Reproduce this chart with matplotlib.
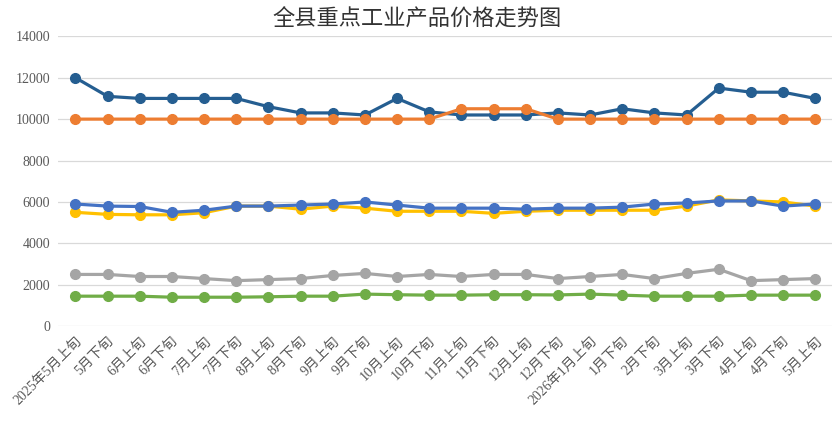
import matplotlib.pyplot as plt
import numpy as np

plt.rcParams['font.family'] = ['Liberation Serif', 'Noto Sans CJK SC', 'DejaVu Sans']

LABELS = [
    "2025年5月上旬", "5月下旬", "6月上旬", "6月下旬", "7月上旬", "7月下旬",
    "8月上旬", "8月下旬", "9月上旬", "9月下旬", "10月上旬", "10月下旬",
    "11月上旬", "11月下旬", "12月上旬", "12月下旬", "2026年1月上旬", "1月下旬",
    "2月下旬", "3月上旬", "3月下旬", "4月上旬", "4月下旬", "5月上旬",
]

s_darkblue = [12000, 11100, 11000, 11000, 11000, 11000, 10600, 10300, 10300, 10200, 11000, 10350,
              10200, 10200, 10200, 10300, 10200, 10500, 10300, 10200, 11500, 11300, 11300, 11000]
s_orange = [10000, 10000, 10000, 10000, 10000, 10000, 10000, 10000, 10000, 10000, 10000, 10000,
            10500, 10500, 10500, 10000, 10000, 10000, 10000, 10000, 10000, 10000, 10000, 10000]
s_yellow = [5500, 5400, 5380, 5380, 5480, 5800, 5800, 5650, 5800, 5700, 5550, 5550,
            5550, 5450, 5550, 5600, 5600, 5600, 5600, 5800, 6100, 6050, 6000, 5800]
s_blue = [5900, 5800, 5780, 5500, 5600, 5800, 5800, 5850, 5900, 6000, 5850, 5700,
          5700, 5700, 5650, 5700, 5700, 5750, 5900, 5950, 6050, 6050, 5800, 5900]
s_gray = [2500, 2500, 2400, 2400, 2300, 2200, 2250, 2300, 2450, 2550, 2400, 2500,
          2400, 2500, 2500, 2300, 2400, 2500, 2300, 2550, 2750, 2200, 2250, 2300]
s_green = [1450, 1450, 1450, 1400, 1400, 1400, 1420, 1450, 1450, 1550, 1520, 1500,
           1500, 1520, 1520, 1510, 1550, 1500, 1450, 1450, 1450, 1500, 1500, 1500]

SERIES = [
    (s_darkblue, "#255E91"),
    (s_orange, "#ED7D31"),
    (s_gray, "#A5A5A5"),
    (s_green, "#70AD47"),
    (s_yellow, "#FFC000"),
    (s_blue, "#4472C4"),
]


def main():
    fig = plt.figure(figsize=(8.34, 4.22), dpi=100)
    ax = fig.add_axes([0.07, 0.227, 0.928, 0.687])
    x = np.arange(len(LABELS))

    for vals, color in SERIES:
        ax.plot(x, vals, color=color, lw=2.3, marker="o", ms=7, zorder=3)

    ax.set_xlim(-0.53, 23.53)
    ax.set_ylim(0, 14000)
    ax.set_yticks(np.arange(0, 14001, 2000))
    ax.set_xticks(x)
    ax.set_xticklabels(LABELS)
    plt.setp(ax.get_xticklabels(), rotation=45, ha="right", rotation_mode="anchor")
    ax.tick_params(length=0, labelsize=10, colors="#595959", pad=6)
    ax.grid(axis="y", color="#D9D9D9", lw=0.9)
    ax.set_axisbelow(True)
    for side in ["top", "right", "left", "bottom"]:
        ax.spines[side].set_visible(False)

    fig.text(0.5, 0.955, "全县重点工业产品价格走势图", ha="center", va="center",
             fontsize=16, color="#333333", family=["Noto Sans CJK SC"])

    fig.savefig("out.png", dpi=100)


if __name__ == "__main__":
    main()
